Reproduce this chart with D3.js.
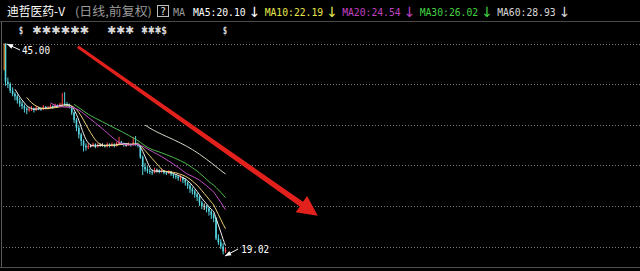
<!DOCTYPE html>
<html>
<head>
<meta charset="utf-8">
<script src="https://cdnjs.cloudflare.com/ajax/libs/d3/7.8.5/d3.min.js"></script>
<style>
body{margin:0;background:#000;overflow:hidden;}
svg{display:block;}
</style>
</head>
<body>
<div class="chart"></div>
<script>
// daily K-line, 94 trading days (index = day number since listing)
var opens = [45.0,40.3,40.0,39.2,38.8,38.5,38.0,37.6,37.3,37.0,
	36.8,36.9,37.0,36.8,37.1,37.0,36.9,37.2,37.0,37.1,
	37.3,37.2,37.4,37.3,37.5,37.6,37.5,37.4,37.2,36.5,
	35.6,34.6,33.8,33.0,32.4,32.2,32.4,32.4,32.6,32.3,
	32.5,32.5,32.5,32.3,32.6,32.4,32.6,32.4,32.7,32.9,
	32.7,32.5,32.5,32.6,32.5,32.8,32.6,32.4,31.0,29.8,
	29.5,29.3,29.2,29.1,29.4,29.4,29.2,29.3,29.1,29.0,
	29.2,28.9,28.7,28.6,28.4,28.5,28.2,27.9,27.5,27.1,
	26.8,26.4,26.1,25.4,25.0,25.0,24.7,24.3,23.9,23.5,
	21.0,20.5,20.0,19.4];
var highs = [45.0,40.8,40.2,39.6,39.0,38.7,38.3,37.9,37.5,37.2,
	37.2,37.3,37.1,37.3,37.2,37.1,37.4,37.3,37.3,37.5,
	37.4,37.6,37.5,37.7,38.9,39.0,37.8,37.6,37.3,36.6,
	35.8,34.9,34.0,33.2,32.7,32.7,32.6,32.8,32.7,32.7,
	32.7,32.7,32.6,32.8,32.7,32.8,32.7,32.9,33.5,33.0,
	32.8,32.7,32.8,32.7,33.5,33.6,32.8,32.5,31.2,30.3,
	29.9,29.6,29.5,29.7,29.6,29.5,29.6,29.4,29.3,29.4,
	29.3,29.0,28.9,28.8,28.8,28.6,28.4,28.0,27.7,27.3,
	27.0,26.6,26.3,25.6,25.3,25.1,24.9,24.5,24.1,23.6,
	21.5,20.9,20.4,19.9];
var lows = [39.8,39.5,38.9,38.5,38.0,37.6,37.2,36.9,36.5,36.3,
	36.6,36.7,36.5,36.7,36.8,36.7,36.8,36.9,36.9,37.0,
	37.0,37.1,37.1,37.2,37.3,37.3,37.2,37.0,36.2,35.2,
	34.2,33.3,32.4,31.7,31.8,32.0,32.2,32.3,32.1,32.2,
	32.3,32.3,32.2,32.2,32.2,32.3,32.2,32.3,32.6,32.5,
	32.3,32.3,32.4,32.3,32.4,32.4,32.2,30.8,28.8,29.2,
	29.0,28.9,28.8,29.0,29.1,29.0,29.1,28.9,28.8,28.9,
	28.7,28.4,28.3,28.1,28.0,27.8,27.5,27.1,26.6,26.4,
	26.0,25.6,25.0,24.6,24.5,24.2,23.8,23.4,23.0,20.8,
	20.2,19.7,19.02,19.2];
var closes = [40.3,40.0,39.2,38.8,38.5,38.0,37.6,37.3,37.0,36.8,
	36.9,37.0,36.8,37.1,37.0,36.9,37.2,37.0,37.1,37.3,
	37.2,37.4,37.3,37.5,37.6,37.5,37.4,37.2,36.5,35.6,
	34.6,33.8,33.0,32.4,32.2,32.4,32.4,32.6,32.3,32.5,
	32.5,32.5,32.3,32.6,32.4,32.6,32.4,32.7,32.9,32.7,
	32.5,32.5,32.6,32.5,32.8,32.6,32.4,31.0,29.8,29.5,
	29.3,29.2,29.1,29.4,29.4,29.2,29.3,29.1,29.0,29.2,
	28.9,28.7,28.6,28.4,28.5,28.2,27.9,27.5,27.1,26.8,
	26.4,26.1,25.4,25.0,25.0,24.7,24.3,23.9,23.5,21.0,
	20.5,20.0,19.4,19.6];

var maPeriods = [5, 10, 20, 30, 60];
var maLabels  = ["MA5:20.10", "MA10:22.19", "MA20:24.54", "MA30:26.02", "MA60:28.93"];
var gridPrices = [45, 40, 35, 30, 25, 20];

// trend annotation, in (day, price)
var trendFrom = [30.6, 44.6];
var trendTo   = [132, 23.8];

var maColors   = ["#f2f2f2", "#f0d27a", "#c24fc6", "#4fc04f", "#dcdccb"];
var textColors = ["#ffffff", "#e8e84a", "#c040c0", "#44d044", "#d8d8d8"];

var W = 640, H = 271;
var mono = "'DejaVu Sans Mono', monospace";
var cjk = "'Noto Sans CJK SC', sans-serif";

var svg = d3.select(".chart").append("svg")
	.attr("width", W)
	.attr("height", H)
	.style("background", "#000");

var days = d3.range(closes.length);

var x = d3.scaleLinear().domain([0, days.length - 1]).range([5.5, 225.5]);
var y = d3.scaleLinear().domain([20, 45]).range([246.5, 43.5]);

/** FRAME */
svg.append("line")
	.attr("x1", 0).attr("x2", W).attr("y1", 21.5).attr("y2", 21.5)
	.attr("stroke", "#4a4a4a");
svg.append("line")
	.attr("x1", 1.5).attr("x2", 1.5).attr("y1", 22).attr("y2", 268)
	.attr("stroke", "#5a5a5a");
svg.append("line")
	.attr("x1", 0).attr("x2", W).attr("y1", 267.5).attr("y2", 267.5)
	.attr("stroke", "#505050");

svg.append("g").selectAll("line")
	.data(gridPrices)
	.enter().append("line")
	.attr("x1", 3).attr("x2", W)
	.attr("y1", d => Math.round(y(d)) + 0.5)
	.attr("y2", d => Math.round(y(d)) + 0.5)
	.attr("stroke", "#7a7a7a")
	.attr("stroke-dasharray", "1,2");

/** HEADER */
var head = svg.append("g");
head.append("text")
	.attr("x", 7).attr("y", 16)
	.attr("font-family", cjk).attr("font-size", 12)
	.attr("fill", "#fff")
	.attr("textLength", 58).attr("lengthAdjust", "spacingAndGlyphs")
	.text("迪哲医药-V");
head.append("text")
	.attr("x", 75).attr("y", 16)
	.attr("font-family", cjk).attr("font-size", 12)
	.attr("fill", "#9a9a9a")
	.attr("textLength", 77).attr("lengthAdjust", "spacingAndGlyphs")
	.text("(日线,前复权)");
head.append("rect")
	.attr("x", 157.5).attr("y", 5.5).attr("width", 11).attr("height", 11)
	.attr("fill", "none").attr("stroke", "#bdbdbd");
head.append("text")
	.attr("x", 163).attr("y", 15)
	.attr("text-anchor", "middle")
	.attr("font-family", mono).attr("font-size", 10)
	.attr("fill", "#e0e0e0")
	.text("?");
head.append("text")
	.attr("x", 173).attr("y", 15.5)
	.attr("font-family", mono).attr("font-size", 10)
	.attr("fill", "#9a9a9a")
	.attr("textLength", 12)
	.text("MA");

var cursor = 193;
maLabels.forEach(function(lbl, k){
	var len = lbl.length * 5.85;
	head.append("text")
		.attr("x", cursor).attr("y", 15.5)
		.attr("font-family", mono).attr("font-size", 10)
		.attr("fill", textColors[k])
		.attr("textLength", len).attr("lengthAdjust", "spacingAndGlyphs")
		.text(lbl);
	head.append("text")
		.attr("x", cursor + len + 9).attr("y", 17)
		.attr("text-anchor", "middle")
		.attr("font-family", "'DejaVu Sans', sans-serif").attr("font-size", 14)
		.attr("fill", textColors[k])
		.text("↓");
	cursor += len + 19;
});

// second header row (masked symbols)
var row2 = [["$", 19, 4], ["✱✱✱✱✱✱", 32, 57], ["✱✱✱", 107, 27], ["✱✱✱$", 141, 26], ["$", 223, 4]];
svg.append("g").selectAll("text")
	.data(row2)
	.enter().append("text")
	.attr("x", d => d[1]).attr("y", 33.5)
	.attr("font-family", "'DejaVu Sans', sans-serif").attr("font-size", 11)
	.attr("font-weight", "bold")
	.attr("fill", "#d8d8d8")
	.attr("textLength", d => d[2]).attr("lengthAdjust", "spacingAndGlyphs")
	.text(d => d[0]);

/** CANDLES */
var candles = svg.append("g");
var bar = candles.selectAll("g")
	.data(days)
	.enter().append("g");

function candleColor(i){
	if (closes[i] > opens[i]) return "#ff4a4a";
	if (closes[i] < opens[i]) return "#56d6e0";
	return "#e8e8e8";
}

bar.append("line")
	.attr("x1", i => x(i)).attr("x2", i => x(i))
	.attr("y1", i => y(highs[i])).attr("y2", i => y(lows[i]))
	.attr("stroke", candleColor)
	.attr("stroke-width", 1);

bar.append("rect")
	.attr("x", i => x(i) - 0.8)
	.attr("width", 1.6)
	.attr("y", i => y(Math.max(opens[i], closes[i])))
	.attr("height", i => Math.max(1, y(Math.min(opens[i], closes[i])) - y(Math.max(opens[i], closes[i]))))
	.attr("fill", candleColor);

// left edge marker of first session
svg.append("rect")
	.attr("x", 3.5).attr("y", y(45)).attr("width", 1.5)
	.attr("height", y(41.7) - y(45))
	.attr("fill", "#c07830");

/** MOVING AVERAGES */
function movingAvg(n){
	return days.filter(i => i >= n - 1)
		.map(i => [i, d3.mean(closes.slice(i - n + 1, i + 1))]);
}

var line = d3.line()
	.x(d => x(d[0]))
	.y(d => y(d[1]))
	.curve(d3.curveMonotoneX);

svg.append("g").selectAll("path")
	.data(maPeriods)
	.enter().append("path")
	.attr("d", n => line(movingAvg(n)))
	.attr("fill", "none")
	.attr("stroke", (n, k) => maColors[k])
	.attr("stroke-width", 1);

/** TREND ARROW */
var ax0 = x(trendFrom[0]), ay0 = y(trendFrom[1]);
var ax1 = x(trendTo[0]), ay1 = y(trendTo[1]);
var len = Math.hypot(ax1 - ax0, ay1 - ay0);
var ux = (ax1 - ax0) / len, uy = (ay1 - ay0) / len;
var headLen = 20, headHalf = 10, w0 = 1.4, w1 = 2.8;
var bx = ax1 - ux * headLen, by = ay1 - uy * headLen;

svg.append("path")
	.attr("d", "M" + (ax0 + uy * w0) + "," + (ay0 - ux * w0) +
		"L" + (bx + uy * w1) + "," + (by - ux * w1) +
		"L" + (bx + uy * headHalf) + "," + (by - ux * headHalf) +
		"L" + ax1 + "," + ay1 +
		"L" + (bx - uy * headHalf) + "," + (by + ux * headHalf) +
		"L" + (bx - uy * w1) + "," + (by + ux * w1) +
		"L" + (ax0 - uy * w0) + "," + (ay0 + ux * w0) + "Z")
	.attr("fill", "#e3211c");

/** HIGH / LOW MARKERS */
var iMax = d3.maxIndex(highs), iMin = d3.minIndex(lows);

function marker(tx, ty, fx, fy, label, lx, ly){
	var g = svg.append("g");
	var d = Math.hypot(fx - tx, fy - ty);
	var vx = (fx - tx) / d, vy = (fy - ty) / d;
	g.append("line")
		.attr("x1", fx).attr("y1", fy).attr("x2", tx).attr("y2", ty)
		.attr("stroke", "#fff").attr("stroke-width", 1);
	g.append("path")
		.attr("d", "M" + tx + "," + ty +
			"L" + (tx + vx * 6 - vy * 2.5) + "," + (ty + vy * 6 + vx * 2.5) +
			"L" + (tx + vx * 6 + vy * 2.5) + "," + (ty + vy * 6 - vx * 2.5) + "Z")
		.attr("fill", "#fff");
	g.append("text")
		.attr("x", lx).attr("y", ly)
		.attr("font-family", mono).attr("font-size", 10)
		.attr("fill", "#fff")
		.attr("textLength", 28).attr("lengthAdjust", "spacingAndGlyphs")
		.text(label);
}

var hx = x(iMax) + 1.5, hy = y(highs[iMax]) + 0.5;
marker(hx, hy, hx + 13, hy + 6, d3.format(".2f")(highs[iMax]), hx + 15, hy + 9.5);

var lx = x(iMin) + 2, ly = y(lows[iMin]) + 1.5;
marker(lx, ly, lx + 13, ly - 7, d3.format(".2f")(lows[iMin]), lx + 16, ly - 3);
</script>
</body>
</html>
